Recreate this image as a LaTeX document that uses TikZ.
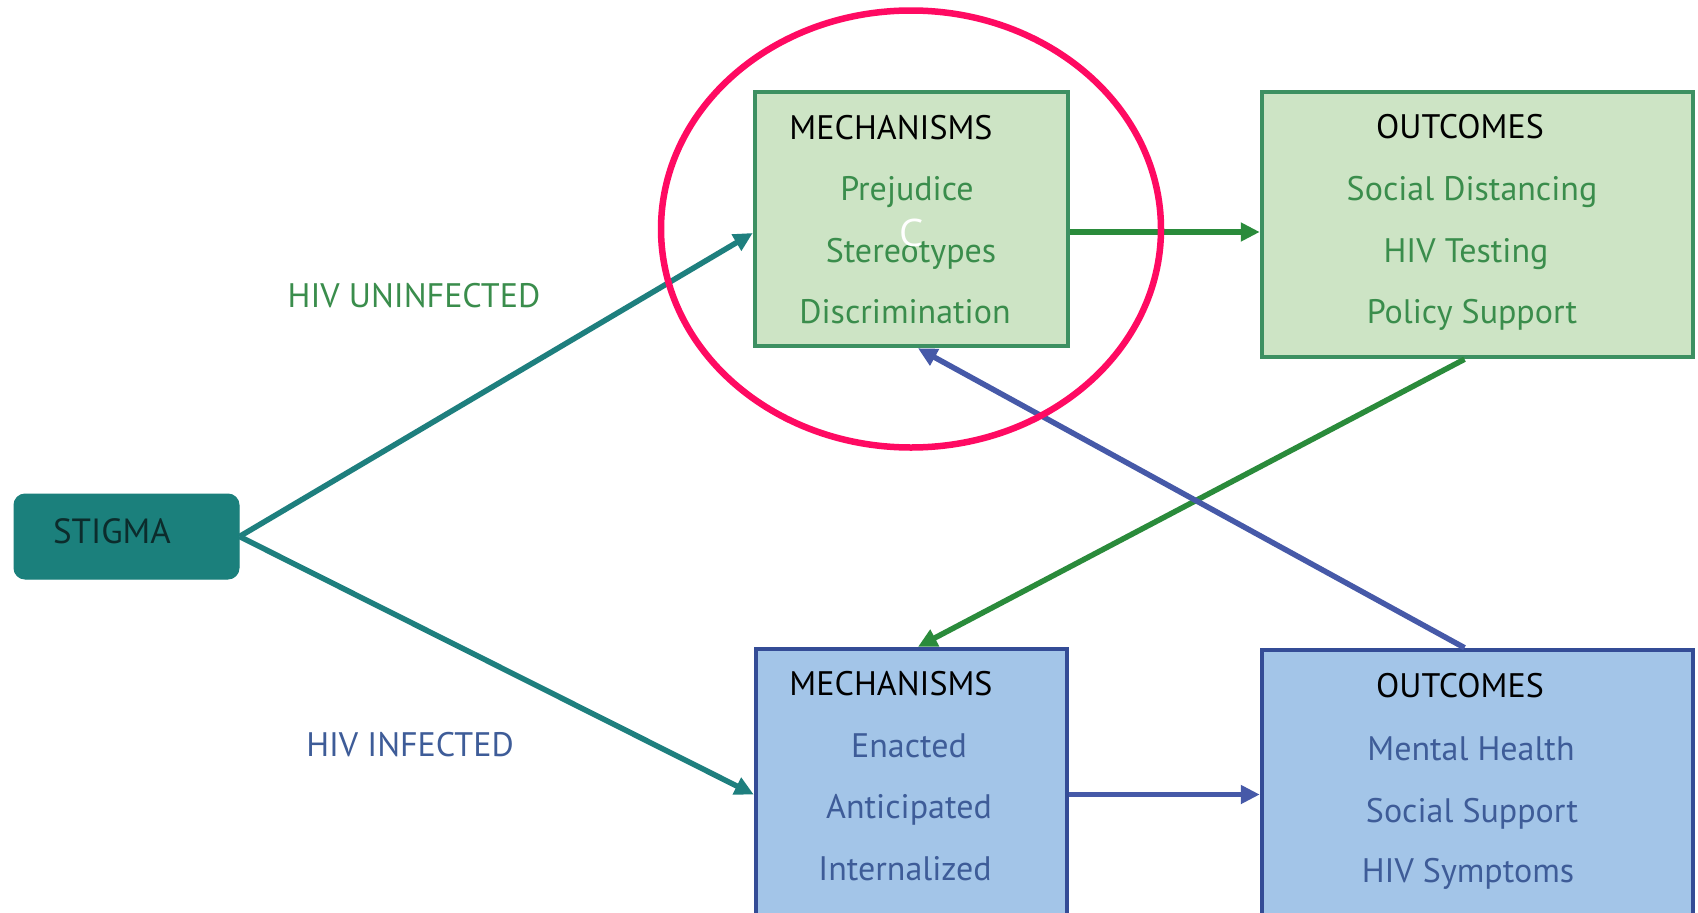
\documentclass[tikz,border=0pt]{standalone}
\usepackage{fontspec}
\setmainfont{PT Sans}
\newfontfamily\cfont{Open Sans}
\usetikzlibrary{arrows.meta,shapes.geometric}
\definecolor{teal1}{HTML}{1E7F7E}
\definecolor{stigmafill}{HTML}{1B807C}
\definecolor{stigmatext}{HTML}{0C2C2C}
\definecolor{gfill}{HTML}{CDE4C5}
\definecolor{gborder}{HTML}{3D9062}
\definecolor{gtext}{HTML}{3A8D4C}
\definecolor{garrow}{HTML}{2A8B3B}
\definecolor{bfill}{HTML}{A3C5E8}
\definecolor{bborder}{HTML}{344C96}
\definecolor{btext}{HTML}{3E5C98}
\definecolor{barrow}{HTML}{4659A8}
\definecolor{ring}{HTML}{FF0A62}
\tikzset{
  boxg/.style={draw=gborder, fill=gfill, line width=4.5pt, rectangle, inner sep=0pt},
  boxb/.style={draw=bborder, fill=bfill, line width=4.5pt, rectangle, inner sep=0pt},
  head/.style={anchor=base, inner sep=0pt, text=black, font=\fontsize{34}{40}\selectfont},
  itemg/.style={anchor=base, inner sep=0pt, text=gtext, font=\fontsize{34}{40}\selectfont},
  itemb/.style={anchor=base, inner sep=0pt, text=btext, font=\fontsize{34}{40}\selectfont},
  conn/.style={line width=5.5pt, -{Triangle[length=19pt,width=18pt]}},
}
\begin{document}
\begin{tikzpicture}[x=1pt,y=-1pt]
\useasboundingbox[fill=white] (0,0) rectangle (1698,913);
% boxes
\node[draw=stigmafill, fill=stigmafill, line width=1pt, rounded corners=11pt, minimum width=225pt, minimum height=85pt, inner sep=0pt] (stigma) at (126.5,536.5) {};
\node[anchor=base, inner sep=0pt, text=stigmatext, font=\fontsize{35}{40}\selectfont] (stigmat) at (112,543) {STIGMA};
\node[boxg, minimum width=313pt, minimum height=254pt] (tm) at (911.5,219) {};
\node[boxg, minimum width=431pt, minimum height=265pt] (to) at (1477.5,224.5) {};
\node[boxb, minimum width=311pt, minimum height=291pt] (bm) at (911.5,794.5) {};
\node[boxb, minimum width=431pt, minimum height=290pt] (bo) at (1477.5,795) {};
% texts top mechanisms
\node[head] (tmh) at (891,139) {MECHANISMS};
\node[itemg] (tm1) at (907,200) {Prejudice};
\node[itemg] (tm2) at (911,262) {Stereotypes};
\node[itemg] (tm3) at (905,323) {Discrimination};
% top outcomes
\node[head] (toh) at (1460,138) {OUTCOMES};
\node[itemg] (to1) at (1472,200) {Social Distancing};
\node[itemg] (to2) at (1466,262) {HIV Testing};
\node[itemg] (to3) at (1472,323) {Policy Support};
% bottom mechanisms
\node[head] (bmh) at (891,695) {MECHANISMS};
\node[itemb] (bm1) at (909,757) {Enacted};
\node[itemb] (bm2) at (909,818) {Anticipated};
\node[itemb] (bm3) at (905,880) {Internalized};
% bottom outcomes
\node[head] (boh) at (1460,697) {OUTCOMES};
\node[itemb] (bo1) at (1471,760) {Mental Health};
\node[itemb] (bo2) at (1472,822) {Social Support};
\node[itemb] (bo3) at (1468,882) {HIV Symptoms};
% path labels
\node[itemg] (lu) at (414,307) {HIV UNINFECTED};
\node[itemb] (li) at (410,756) {HIV INFECTED};
% connectors
\coordinate (a1) at ([yshift=-14pt]tm.west);
\coordinate (a2) at ([yshift=-13pt]tm.east);
\draw[conn, teal1] (stigma.east) -- (a1);
\draw[conn, teal1] (stigma.east) -- (bm.west);
\draw[conn, garrow] (a2) -- (a2 -| to.west);
\draw[conn, garrow] ([xshift=-13pt]to.south) -- ([xshift=6.5pt]bm.north);
\draw[conn, barrow] ([xshift=-13pt]bo.north) -- ([xshift=6.5pt]tm.south);
\draw[conn, barrow] (bm.east) -- (bm.east -| bo.west);
% highlight ring
\node[draw=ring, line width=6.5pt, ellipse, minimum width=500pt, minimum height=437pt, inner sep=0pt] (ring) at (911,229) {};
\node[anchor=base, inner sep=0pt, text=white, font=\cfont\fontsize{38}{44}\selectfont] (cmark) at (911,246) {C};
\end{tikzpicture}
\end{document}
